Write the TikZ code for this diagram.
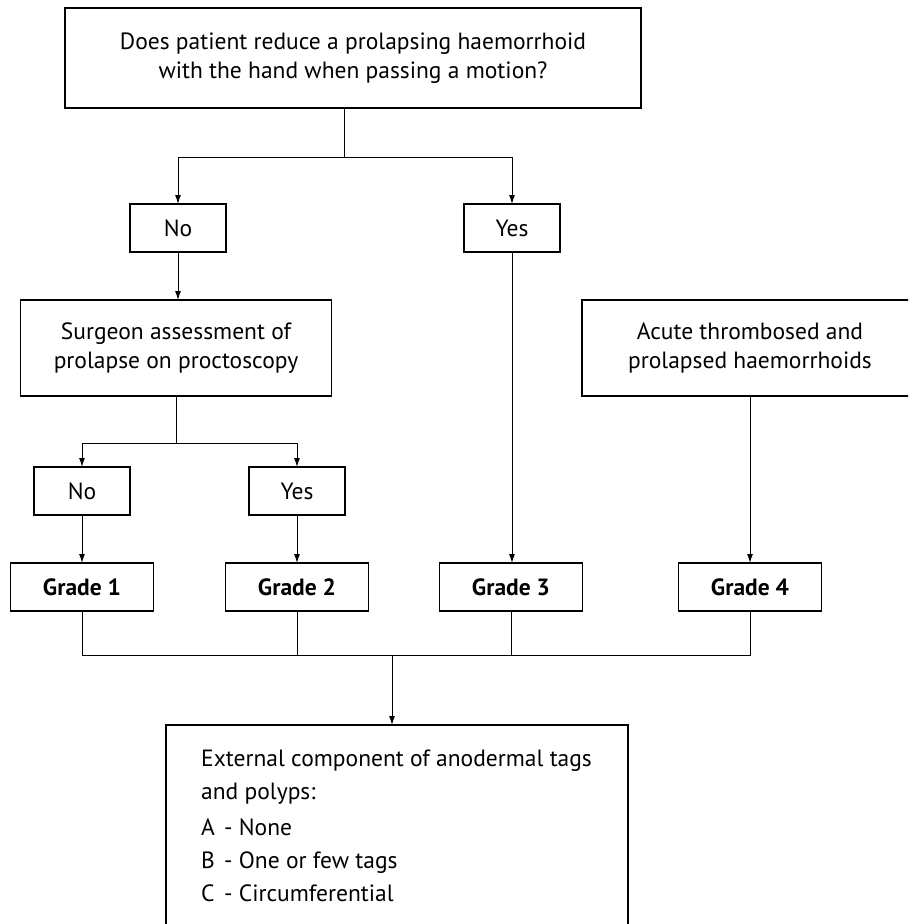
\documentclass[tikz,border=0pt]{standalone}
\usepackage{fontspec}
\setmainfont{PT Sans}
\usetikzlibrary{arrows.meta,positioning}

\begin{document}
\begin{tikzpicture}[x=1pt,y=-1pt,
  every node/.style={font=\fontsize{23.5}{28.5}\selectfont},
  box/.style={draw,rectangle,line width=1.1pt,inner sep=0pt,align=center,outer sep=0pt},
  answer/.style={box,minimum width=96pt,minimum height=48pt},
  grade/.style={box,minimum width=143pt,minimum height=48pt,font=\fontsize{23.5}{28.5}\selectfont\bfseries},
  link/.style={line width=1pt},
  arr/.style={link,-{Latex[length=9pt,width=6pt]}}]

\useasboundingbox (0,0) rectangle (908,924);
\clip (0,0) rectangle (908,924);

        \node (question) [box,minimum width=576pt,minimum height=100pt] at (353,58)
          {Does patient reduce a prolapsing haemorrhoid\\with the hand when passing a motion?};
        \node (no) [answer] at (178,228) {No};
        \node (yes) [answer] at (512,228) {Yes};

        \node (surgeon) [box,minimum width=311pt,minimum height=96pt] at (176,348)
          {Surgeon assessment of\\prolapse on proctoscopy};
        \node (acute) [box,minimum width=336pt,minimum height=96pt] at (750,348)
          {Acute thrombosed and\\prolapsed haemorrhoids};

        \node (no2) [answer] at (82,491) {No};
        \node (yes2) [answer] at (297,491) {Yes};

        \node (grade1) [grade] at (82,587) {Grade 1};
        \node (grade2) [grade] at (297,587) {Grade 2};
        \node (grade3) [grade] at (511,587) {Grade 3};
        \node (grade4) [grade] at (750,587) {Grade 4};

        \node (external) [box,anchor=north,minimum width=462pt,minimum height=260pt] at (397,725) {};
        \node (externaltext) [below right = 25pt and 35pt of external.north west,anchor=north west,
          align=left,inner sep=0pt,font=\fontsize{23.5}{33}\selectfont]
          {External component of anodermal tags\\and polyps:\\[3pt]
           \makebox[23pt][l]{A}- None\\
           \makebox[23pt][l]{B}- One or few tags\\
           \makebox[23pt][l]{C}- Circumferential};

        % first question
        \coordinate (split) at (344,157);
        \draw[link] (question.south -| split) -- (split);
        \draw[arr] (split) -| (no.north);
        \draw[arr] (split) -| (yes.north);
        \draw[arr] (no.south) -- (no.south |- surgeon.north);

        % proctoscopy
        \coordinate (split2) at (surgeon.south |- 0,443);
        \draw[link] (surgeon) -- (split2);
        \draw[arr] (split2) -| (no2.north);
        \draw[arr] (split2) -| (yes2.north);
        \draw[arr] (no2) -- (grade1);
        \draw[arr] (yes2) -- (grade2);
        \draw[arr] (yes.south) -- (yes.south |- grade3.north);
        \draw[arr] (acute) -- (grade4);

        % grades to external component
        \coordinate (join) at (392,655);
        \draw[link] (grade1.south) |- (grade4.south |- join) -- (grade4.south);
        \draw[link] (grade2.south) -- (grade2.south |- join);
        \draw[link] (grade3.south) -- (grade3.south |- join);
        \draw[arr] (join) -- (external.north -| join);
      \end{tikzpicture}
\end{document}
